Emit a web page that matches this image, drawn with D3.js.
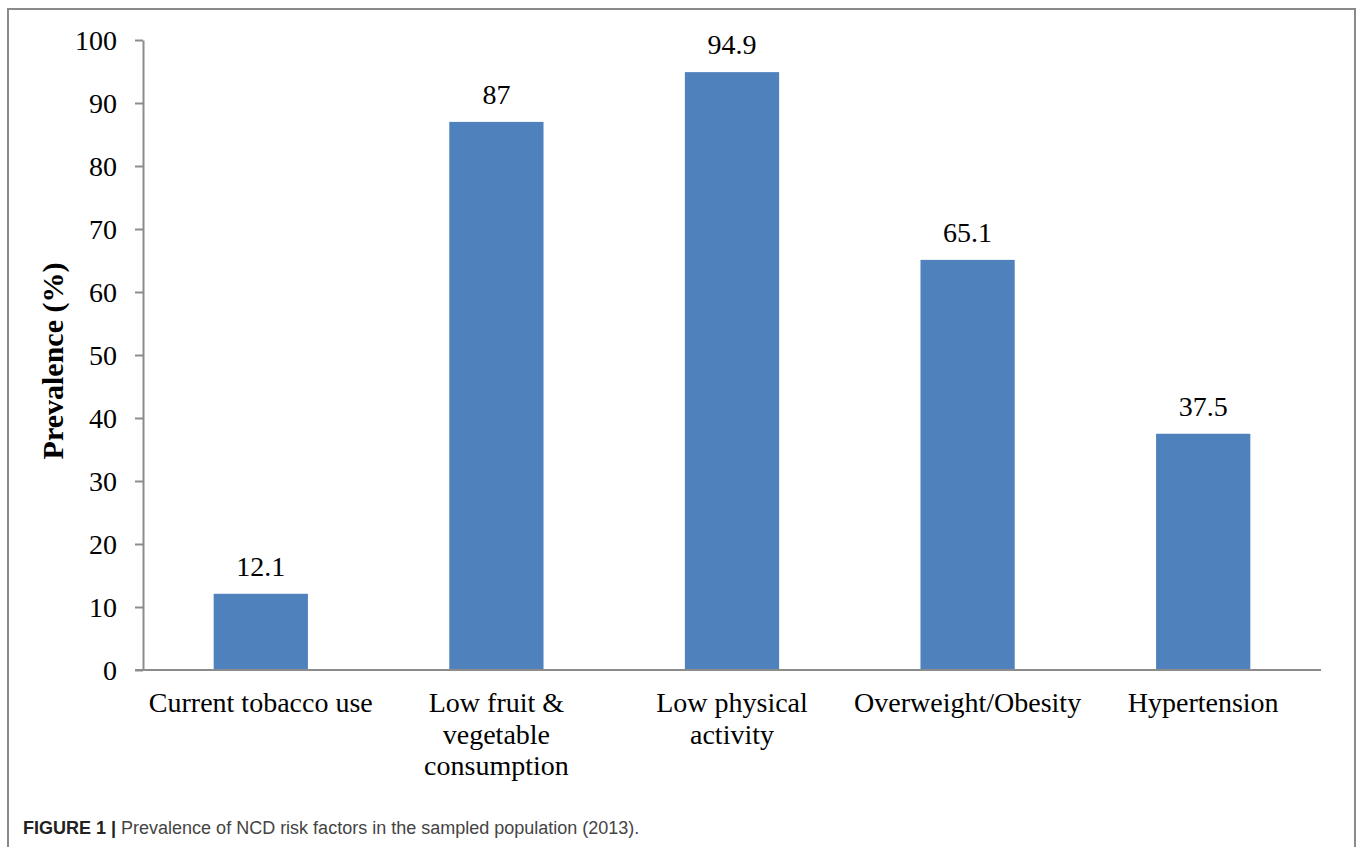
<!DOCTYPE html>
<html>
<head>
<meta charset="utf-8">
<script src="https://cdn.jsdelivr.net/npm/d3@7"></script>
<style>
  html, body { margin: 0; padding: 0; background: #fff; }
  svg { display: block; }
</style>
</head>
<body>
<svg id="chart" width="1357" height="847"></svg>
<script>
// NCD risk factor prevalence, percent of sampled population
const categories = [
  "Current tobacco use",
  "Low fruit & vegetable consumption",
  "Low physical activity",
  "Overweight/Obesity",
  "Hypertension"
];
const prevalence = [12.1, 87, 94.9, 65.1, 37.5];
const valueLabels = ["12.1", "87", "94.9", "65.1", "37.5"];
const yTicks = [0, 10, 20, 30, 40, 50, 60, 70, 80, 90, 100];

const svg = d3.select("#chart");
const W = 1357, H = 847;
const plot = { left: 143, right: 1321, top: 40, bottom: 670 };

const serif = "'Liberation Serif', 'Times New Roman', serif";
const fontSize = 28;
const axisColor = "#8c8c8c";
const barColor = "#4f81bd";

// outer frame
svg.append("path")
  .attr("d", `M8,${H} L8,9 L1355,9 L1355,${H}`)
  .attr("fill", "none")
  .attr("stroke", "#8a8a8a")
  .attr("stroke-width", 2);

const x = d3.scaleBand()
  .domain(categories)
  .range([plot.left, plot.right])
  .paddingInner(0.6)
  .paddingOuter(0.3);

const y = d3.scaleLinear()
  .domain([0, 100])
  .range([plot.bottom, plot.top]);

// bars
svg.append("g").selectAll("rect")
  .data(categories)
  .join("rect")
  .attr("x", d => x(d))
  .attr("width", x.bandwidth())
  .attr("y", (d, i) => y(prevalence[i]))
  .attr("height", (d, i) => y(0) - y(prevalence[i]))
  .attr("fill", barColor);

// value labels
svg.append("g").selectAll("text")
  .data(categories)
  .join("text")
  .attr("x", d => x(d) + x.bandwidth() / 2)
  .attr("y", (d, i) => y(prevalence[i]) - 18)
  .attr("text-anchor", "middle")
  .attr("font-family", serif)
  .attr("font-size", fontSize)
  .attr("fill", "#000")
  .text((d, i) => valueLabels[i]);

// y axis
const yAxis = d3.axisLeft(y).tickValues(yTicks).tickSize(8).tickPadding(18).tickSizeOuter(0);
const gy = svg.append("g").attr("transform", `translate(${plot.left},0)`).call(yAxis);
gy.select(".domain").attr("stroke", axisColor).attr("stroke-width", 2);
gy.selectAll(".tick line").attr("stroke", axisColor).attr("stroke-width", 2);
gy.selectAll(".tick text")
  .attr("font-family", serif)
  .attr("font-size", fontSize)
  .attr("fill", "#000")
  .attr("dy", "0.34em");

// x axis baseline (extends left to the tick length)
svg.append("line")
  .attr("x1", plot.left - 8).attr("x2", plot.right)
  .attr("y1", y(0)).attr("y2", y(0))
  .attr("stroke", axisColor)
  .attr("stroke-width", 2);

// category labels, word-wrapped to the category slot width
const wrapWidth = x.step() * 0.97;
const lineHeight = 31.5;
const xl = svg.append("g");
categories.forEach(cat => {
  const cx = x(cat) + x.bandwidth() / 2;
  const t = xl.append("text")
    .attr("x", cx)
    .attr("y", 712)
    .attr("text-anchor", "middle")
    .attr("font-family", serif)
    .attr("font-size", fontSize)
    .attr("fill", "#000");
  const words = cat.split(" ");
  let line = [];
  let tspan = t.append("tspan").attr("x", cx).attr("dy", 0);
  words.forEach(w => {
    line.push(w);
    tspan.text(line.join(" "));
    if (tspan.node().getComputedTextLength() > wrapWidth && line.length > 1) {
      line.pop();
      tspan.text(line.join(" "));
      line = [w];
      tspan = t.append("tspan")
        .attr("x", cx)
        .attr("dy", lineHeight)
        .text(w);
    }
  });
});

// y axis title
svg.append("text")
  .attr("transform", `translate(63,${(plot.top + plot.bottom) / 2 + 6}) rotate(-90)`)
  .attr("text-anchor", "middle")
  .attr("font-family", serif)
  .attr("font-size", 30)
  .attr("font-weight", "bold")
  .attr("fill", "#000")
  .text("Prevalence (%)");

// figure caption
const cap = svg.append("text")
  .attr("x", 23)
  .attr("y", 834)
  .attr("font-family", "'Liberation Sans', Arial, sans-serif")
  .attr("font-size", 18);
cap.append("tspan").attr("font-weight", "bold").attr("fill", "#222").text("FIGURE 1 |");
cap.append("tspan").attr("fill", "#444").text(" Prevalence of NCD risk factors in the sampled population (2013).");
</script>
</body>
</html>
